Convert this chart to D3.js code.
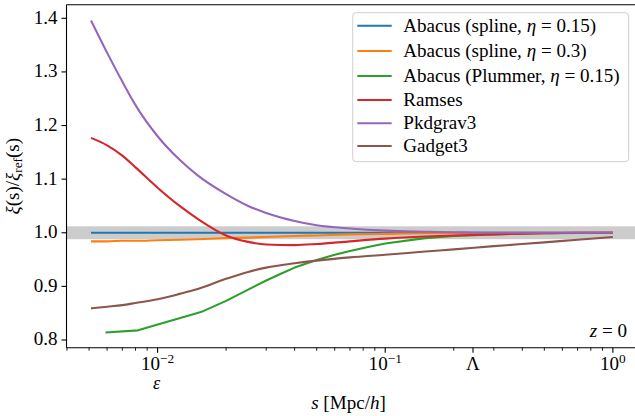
<!DOCTYPE html>
<html>
<head>
<meta charset="utf-8">
<script src="https://cdn.jsdelivr.net/npm/d3@7"></script>
<style>
  html, body { margin: 0; padding: 0; background: #fff; }
  svg { display: block; }
</style>
</head>
<body>
<svg id="chart" width="635" height="416"></svg>
<script>
// ---------------- data ----------------
const seriesNames = [
  "Abacus (spline, η = 0.15)",
  "Abacus (spline, η = 0.3)",
  "Abacus (Plummer, η = 0.15)",
  "Ramses",
  "Pkdgrav3",
  "Gadget3"
];
const sGrid = [0.0051, 0.006, 0.007, 0.008, 0.01, 0.0125, 0.015, 0.02, 0.025, 0.03,
               0.04, 0.05, 0.07, 0.1, 0.15, 0.2, 0.3, 0.5, 0.7, 1.0];
const abacusSpline015 = [1, 1, 1, 1, 1, 1, 1, 1, 1, 1, 1, 1, 1, 1, 1, 1, 1, 1, 1, 1];
const abacusSpline03  = [0.984, 0.984, 0.985, 0.985, 0.986, 0.987, 0.988, 0.990, 0.991, 0.992,
                         0.994, 0.995, 0.997, 0.998, 0.999, 0.999, 1.0, 1.0, 1.0, 1.0];
const sPlummer = [0.0059, 0.0082, 0.0155, 0.02, 0.025, 0.03, 0.035, 0.04, 0.05, 0.06,
                  0.07, 0.085, 0.1, 0.15, 0.2, 0.3, 0.5, 1.0];
const abacusPlummer = [0.814, 0.818, 0.852, 0.873, 0.894, 0.911, 0.924, 0.935, 0.949, 0.959,
                       0.966, 0.974, 0.980, 0.990, 0.994, 0.997, 0.999, 1.0];
const ramses   = [1.177, 1.163, 1.144, 1.122, 1.084, 1.050, 1.026, 0.995, 0.983, 0.978,
                  0.977, 0.979, 0.984, 0.989, 0.993, 0.995, 0.997, 0.999, 1.0, 1.0];
const pkdgrav3 = [1.396, 1.336, 1.282, 1.238, 1.180, 1.136, 1.107, 1.072, 1.050, 1.037,
                  1.022, 1.014, 1.008, 1.004, 1.002, 1.001, 1.0, 1.0, 1.0, 1.0];
const gadget3  = [0.859, 0.862, 0.865, 0.869, 0.876, 0.886, 0.895, 0.914, 0.927, 0.935,
                  0.943, 0.948, 0.954, 0.959, 0.965, 0.969, 0.975, 0.982, 0.987, 0.992];
const yTicks = [0.8, 0.9, 1.0, 1.1, 1.2, 1.3, 1.4];
const xMajorTicks = [0.01, 0.1, 1];
const xMajorExps = ["−2", "−1", "0"];
const lambdaS = 0.243;   // Λ tick
const epsS = 0.01;       // ε label
const bandHalf = 0.012;  // gray tolerance band around 1

// ---------------- layout ----------------
const colors = ["#1f77b4", "#ff7f0e", "#2ca02c", "#d62728", "#9467bd", "#8c564b"];
const L = 66.5, R = 636.5, T = 4.7, B = 347.7;
const FONT = "'Liberation Serif', 'Times New Roman', serif";

const svg = d3.select("#chart");

// calibrate font size so text widths match the reference
const probe = svg.append("text").attr("font-family", FONT).attr("font-size", 20)
  .text("Abacus (Plummer, η = 0.15)");
const probeW = probe.node().getComputedTextLength();
probe.remove();
let fs = probeW > 0 ? 20 * 217 / probeW : 17;
fs = Math.max(14, Math.min(20, fs));

const x = d3.scaleLog().domain([0.00398, 1.27]).range([L, R]);
const y = d3.scaleLinear().domain([0.7856, 1.4254]).range([B, T]);

svg.append("clipPath").attr("id", "clip")
  .append("rect").attr("x", L).attr("y", T).attr("width", R - L).attr("height", B - T);

const plot = svg.append("g").attr("clip-path", "url(#clip)");

plot.append("rect")
  .attr("x", L).attr("width", R - L)
  .attr("y", y(1 + bandHalf)).attr("height", y(1 - bandHalf) - y(1 + bandHalf))
  .attr("fill", "#cccccc");

const smooth = d3.curveMonotoneX;
const series = [
  { xs: sGrid, ys: abacusSpline015, curve: smooth },
  { xs: sGrid, ys: abacusSpline03, curve: smooth },
  { xs: sPlummer, ys: abacusPlummer, curve: d3.curveLinear },
  { xs: sGrid, ys: ramses, curve: smooth },
  { xs: sGrid, ys: pkdgrav3, curve: smooth },
  { xs: sGrid, ys: gadget3, curve: smooth }
];

series.forEach((sr, i) => {
  const pts = sr.xs.map((s, k) => [s, sr.ys[k]]);
  const line = d3.line().x(d => x(d[0])).y(d => y(d[1])).curve(sr.curve);
  plot.append("path").attr("d", line(pts))
    .attr("fill", "none").attr("stroke", colors[i])
    .attr("stroke-width", 2.1).attr("stroke-linecap", "butt").attr("stroke-linejoin", "round");
});

const spine = svg.append("g").attr("stroke", "#000").attr("stroke-width", 1.1).attr("fill", "none");
spine.append("line").attr("x1", L).attr("x2", L).attr("y1", T).attr("y2", B);
spine.append("line").attr("x1", L).attr("x2", R).attr("y1", B).attr("y2", B);
spine.append("line").attr("x1", L).attr("x2", R).attr("y1", T).attr("y2", T);
spine.append("line").attr("x1", R).attr("x2", R).attr("y1", T).attr("y2", B);

function txt(g, xx, yy, size) {
  return g.append("text").attr("x", xx).attr("y", yy).attr("font-size", size)
    .attr("font-family", FONT).attr("fill", "#000");
}

const yAx = svg.append("g");
yTicks.forEach(v => {
  yAx.append("line").attr("x1", L - 5).attr("x2", L).attr("y1", y(v)).attr("y2", y(v))
    .attr("stroke", "#000").attr("stroke-width", 1.1);
  txt(yAx, L - 9, y(v) + 5.5, fs).attr("text-anchor", "end").text(d3.format(".1f")(v));
});

const xAx = svg.append("g");
const minor = [];
[0.001, 0.01, 0.1].forEach(d => { for (let m = 2; m <= 9; m++) minor.push(m * d); });
minor.filter(v => x(v) >= L - 0.5 && x(v) <= R).forEach(v => {
  xAx.append("line").attr("x1", x(v)).attr("x2", x(v)).attr("y1", B).attr("y2", B + 3)
    .attr("stroke", "#000").attr("stroke-width", 0.9);
});
xMajorTicks.forEach((v, i) => {
  xAx.append("line").attr("x1", x(v)).attr("x2", x(v)).attr("y1", B).attr("y2", B + 5)
    .attr("stroke", "#000").attr("stroke-width", 1.1);
  const t = txt(xAx, x(v), B + 22.5, fs).attr("text-anchor", "middle");
  t.append("tspan").text("10");
  t.append("tspan").attr("dy", -7).attr("font-size", fs * 0.7).text(xMajorExps[i]);
});
xAx.append("line").attr("x1", x(lambdaS)).attr("x2", x(lambdaS)).attr("y1", B).attr("y2", B + 5)
  .attr("stroke", "#000").attr("stroke-width", 1.1);
txt(xAx, x(lambdaS), B + 22.5, fs).attr("text-anchor", "middle").text("Λ");
txt(xAx, x(epsS) - 1, B + 41, fs * 0.95).attr("text-anchor", "middle").attr("font-style", "italic").text("ε");

const xl = txt(svg, (L + R) / 2 - 3, 408.5, fs).attr("text-anchor", "middle");
xl.append("tspan").attr("font-style", "italic").text("s");
xl.append("tspan").text(" [Mpc/");
xl.append("tspan").attr("font-style", "italic").text("h");
xl.append("tspan").text("]");

const yl = txt(svg, 0, 0, fs)
  .attr("transform", `translate(19,${(T + B) / 2}) rotate(-90)`)
  .attr("text-anchor", "middle");
yl.append("tspan").attr("font-style", "italic").text("ξ");
yl.append("tspan").text("(s)/");
yl.append("tspan").attr("font-style", "italic").text("ξ");
yl.append("tspan").attr("font-size", fs * 0.7).attr("dy", 3).text("ref");
yl.append("tspan").attr("dy", -3).text("(s)");

const zt = txt(svg, 627, 336.7, fs).attr("text-anchor", "end");
zt.append("tspan").attr("font-style", "italic").text("z");
zt.append("tspan").text(" = 0");

const lg = svg.append("g");
lg.append("rect").attr("x", 352.7).attr("y", 12.7).attr("width", 276).attr("height", 149)
  .attr("rx", 3.5).attr("fill", "#fff").attr("fill-opacity", 0.8)
  .attr("stroke", "#d0d0d0").attr("stroke-width", 1);
const rowY = [25.7, 51, 76, 100, 123.3, 146];
seriesNames.forEach((name, i) => {
  lg.append("line").attr("x1", 357.3).attr("x2", 391.7).attr("y1", rowY[i]).attr("y2", rowY[i])
    .attr("stroke", colors[i]).attr("stroke-width", 2.1);
  const t = txt(lg, 403.3, rowY[i] + 5.8, fs);
  const idx = name.indexOf("η");
  if (idx >= 0) {
    t.append("tspan").text(name.slice(0, idx));
    t.append("tspan").attr("font-style", "italic").text("η");
    t.append("tspan").text(name.slice(idx + 1));
  } else {
    t.text(name);
  }
});
</script>
</body>
</html>
